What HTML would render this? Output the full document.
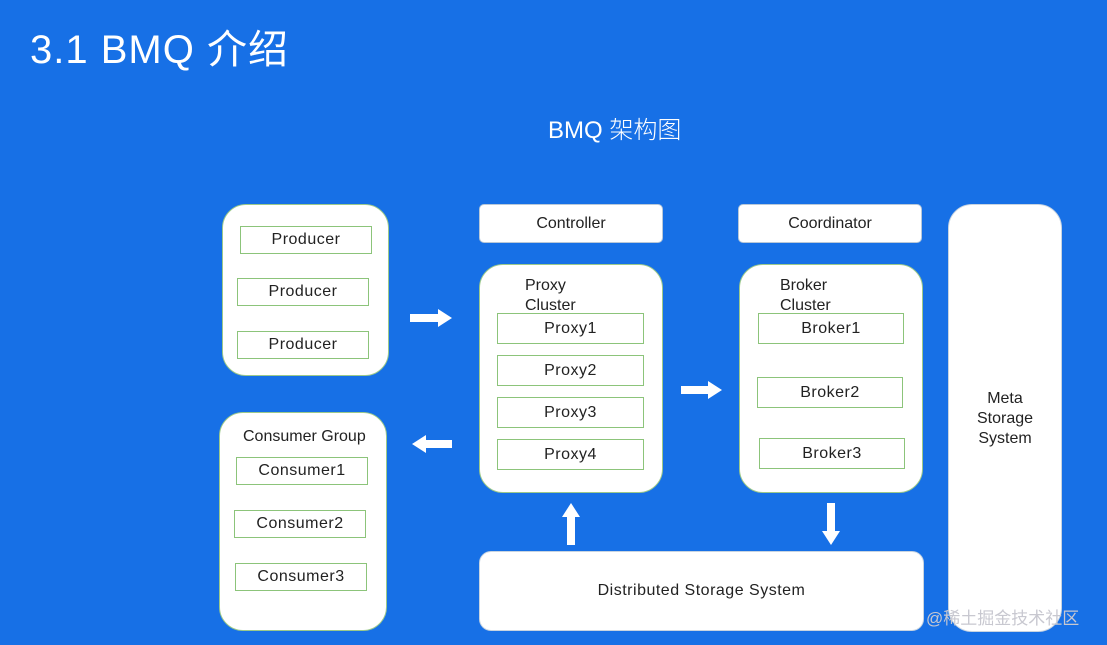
<!DOCTYPE html>
<html><head><meta charset="utf-8"><style>
body{margin:0;width:1107px;height:645px;background:#1770e6;position:relative;overflow:hidden;font-family:"Liberation Sans","Noto Sans CJK SC",sans-serif;}
.a{position:absolute;box-sizing:border-box;}
.big{background:#fff;border:1.5px solid #9cc98a;border-radius:24px;}
.sm{background:#fff;border:1.5px solid #8cc47a;display:flex;align-items:center;justify-content:center;font-size:16px;color:#222;letter-spacing:.5px;}
.top{background:#fff;border:1px solid #b8c8d8;border-radius:5px;display:flex;align-items:center;justify-content:center;font-size:16px;color:#222;}
.t{position:absolute;font-size:16px;color:#222;line-height:20px;}
</style></head><body>
<div class="a" style="left:30px;top:17px;color:#fff;font-size:40px;letter-spacing:1px;">3.1 BMQ 介绍</div>
<div class="a" style="left:548px;top:110px;color:#fff;font-size:24px;font-weight:300;">BMQ 架构图</div>

<div class="a big" style="left:222px;top:204px;width:167px;height:172px"></div>
<div class="a sm" style="left:240px;top:226px;width:132px;height:28px">Producer</div>
<div class="a sm" style="left:237px;top:278px;width:132px;height:28px">Producer</div>
<div class="a sm" style="left:237px;top:331px;width:132px;height:28px">Producer</div>

<div class="a big" style="left:219px;top:412px;width:168px;height:219px"></div>
<div class="t" style="left:243px;top:427px">Consumer Group</div>
<div class="a sm" style="left:236px;top:457px;width:132px;height:28px">Consumer1</div>
<div class="a sm" style="left:234px;top:510px;width:132px;height:28px">Consumer2</div>
<div class="a sm" style="left:235px;top:563px;width:132px;height:28px">Consumer3</div>

<div class="a top" style="left:479px;top:204px;width:184px;height:39px">Controller</div>
<div class="a top" style="left:738px;top:204px;width:184px;height:39px">Coordinator</div>

<div class="a big" style="left:479px;top:264px;width:184px;height:229px"></div>
<div class="t" style="left:525px;top:276px">Proxy<br>Cluster</div>
<div class="a sm" style="left:497px;top:313px;width:147px;height:31px">Proxy1</div>
<div class="a sm" style="left:497px;top:355px;width:147px;height:31px">Proxy2</div>
<div class="a sm" style="left:497px;top:397px;width:147px;height:31px">Proxy3</div>
<div class="a sm" style="left:497px;top:439px;width:147px;height:31px">Proxy4</div>

<div class="a big" style="left:739px;top:264px;width:184px;height:229px"></div>
<div class="t" style="left:780px;top:276px">Broker<br>Cluster</div>
<div class="a sm" style="left:758px;top:313px;width:146px;height:31px">Broker1</div>
<div class="a sm" style="left:757px;top:377px;width:146px;height:31px">Broker2</div>
<div class="a sm" style="left:759px;top:438px;width:146px;height:31px">Broker3</div>

<div class="a big" style="left:948px;top:204px;width:114px;height:428px;border-color:#c8d4e0"></div>
<div class="t" style="left:948px;top:389px;width:114px;text-align:center">Meta<br>Storage<br>System</div>

<div class="a big" style="left:479px;top:551px;width:445px;height:80px;border-radius:12px;border-color:#c8d4e0;display:flex;align-items:center;justify-content:center;font-size:16px;color:#222;letter-spacing:.5px">Distributed Storage System</div>

<svg class="a" style="left:0;top:0" width="1107" height="645">
<g fill="#fff">
<polygon points="410,314 438,314 438,309 452,318 438,327 438,322 410,322"/>
<polygon points="452,440 426,440 426,435 412,444 426,453 426,448 452,448"/>
<polygon points="681,386 708,386 708,381 722,390 708,399 708,394 681,394"/>
<polygon points="567,545 567,517 562,517 571,503 580,517 575,517 575,545"/>
<polygon points="827,503 827,531 822,531 831,545 840,531 835,531 835,503"/>
</g>
</svg>
<div class="a" style="left:926px;top:604px;color:#c8c8d0;font-size:17px;">@稀土掘金技术社区</div>
</body></html>
